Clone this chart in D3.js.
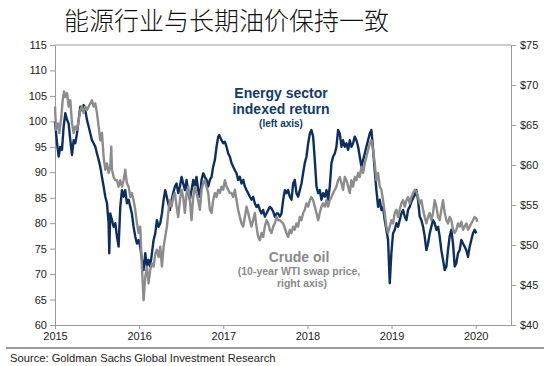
<!DOCTYPE html>
<html><head><meta charset="utf-8">
<script src="https://cdn.jsdelivr.net/npm/d3@7"></script>
<style>body{margin:0;background:#fff}svg{display:block}</style>
</head><body>
<svg id="c" width="550" height="366"></svg>
<script>
const title = "能源行业与长期油价保持一致";
const source = "Source:  Goldman Sachs Global Investment Research";
const yearTicks = [2015, 2016, 2017, 2018, 2019, 2020];
const leftTicks = [60,65,70,75,80,85,90,95,100,105,110,115];
const rightTicks = [40,45,50,55,60,65,70,75];

// Energy sector indexed return (left axis)
const energyDates = [2015.000,2015.024,2015.044,2015.063,2015.083,2015.103,2015.123,2015.143,2015.162,2015.182,2015.202,2015.222,2015.241,2015.261,2015.281,2015.301,2015.321,2015.340,2015.360,2015.380,2015.400,2015.420,2015.439,2015.459,2015.479,2015.499,2015.519,2015.538,2015.558,2015.578,2015.598,2015.618,2015.637,2015.645,2015.657,2015.677,2015.697,2015.717,2015.736,2015.756,2015.776,2015.796,2015.816,2015.835,2015.855,2015.875,2015.895,2015.914,2015.934,2015.954,2015.974,2015.994,2016.013,2016.033,2016.053,2016.073,2016.093,2016.112,2016.132,2016.152,2016.172,2016.192,2016.211,2016.231,2016.251,2016.271,2016.291,2016.310,2016.346,2016.366,2016.386,2016.405,2016.425,2016.445,2016.465,2016.485,2016.504,2016.524,2016.544,2016.564,2016.584,2016.603,2016.623,2016.643,2016.663,2016.682,2016.702,2016.722,2016.742,2016.762,2016.781,2016.801,2016.821,2016.841,2016.861,2016.880,2016.900,2016.920,2016.940,2016.952,2016.979,2016.999,2017.019,2017.039,2017.059,2017.078,2017.098,2017.118,2017.138,2017.158,2017.177,2017.197,2017.217,2017.237,2017.257,2017.276,2017.296,2017.316,2017.336,2017.355,2017.375,2017.395,2017.415,2017.435,2017.454,2017.474,2017.494,2017.514,2017.534,2017.553,2017.573,2017.593,2017.613,2017.633,2017.652,2017.672,2017.692,2017.712,2017.732,2017.751,2017.771,2017.791,2017.811,2017.831,2017.850,2017.870,2017.890,2017.910,2017.930,2017.949,2017.969,2017.989,2018.009,2018.029,2018.048,2018.068,2018.088,2018.108,2018.128,2018.147,2018.167,2018.187,2018.207,2018.227,2018.246,2018.266,2018.286,2018.306,2018.326,2018.345,2018.365,2018.385,2018.405,2018.424,2018.444,2018.464,2018.484,2018.504,2018.523,2018.543,2018.563,2018.583,2018.603,2018.622,2018.642,2018.662,2018.682,2018.701,2018.721,2018.741,2018.761,2018.781,2018.800,2018.820,2018.840,2018.860,2018.880,2018.899,2018.919,2018.939,2018.959,2018.971,2018.979,2018.998,2019.018,2019.038,2019.058,2019.078,2019.097,2019.117,2019.137,2019.157,2019.177,2019.196,2019.216,2019.236,2019.256,2019.276,2019.295,2019.315,2019.335,2019.355,2019.375,2019.394,2019.414,2019.434,2019.454,2019.473,2019.493,2019.513,2019.533,2019.553,2019.572,2019.592,2019.612,2019.632,2019.652,2019.671,2019.691,2019.711,2019.731,2019.751,2019.770,2019.790,2019.810,2019.830,2019.850,2019.869,2019.889,2019.909,2019.929,2019.948,2019.968,2019.988,2020.008];
const energyValues = [100.0,95.7,93.1,95.0,94.4,99.0,101.6,100.3,99.6,96.3,93.4,96.3,95.7,97.6,100.3,102.9,102.2,103.2,102.2,100.3,99.0,97.6,96.3,95.7,95.0,93.7,92.4,91.1,89.1,87.2,85.2,83.9,80.0,74.1,81.9,80.6,79.3,80.0,77.4,75.4,83.2,86.5,85.2,86.5,83.9,84.6,83.2,81.9,79.3,77.4,76.0,76.7,75.4,72.8,70.8,74.1,71.5,72.8,71.5,74.1,76.7,78.0,80.6,79.3,80.0,81.9,84.6,86.5,83.9,82.6,84.6,85.9,87.2,87.8,85.9,87.2,89.1,87.8,86.5,88.5,85.9,84.6,86.5,88.5,87.2,89.1,86.5,85.2,88.5,89.8,89.1,88.5,87.2,88.5,89.1,91.1,92.4,95.0,97.0,97.3,96.3,95.7,96.0,95.0,93.7,93.1,91.8,91.1,90.4,89.8,88.5,89.1,87.8,88.5,87.2,86.5,85.9,85.2,84.6,85.2,83.9,83.2,83.6,82.6,81.9,82.6,81.3,81.9,82.6,83.2,82.9,82.3,81.3,81.9,81.9,81.3,81.9,84.6,86.5,85.9,86.5,85.2,84.6,87.8,88.5,85.9,85.2,86.5,87.8,89.8,91.8,93.1,95.7,97.6,98.3,97.0,92.4,87.2,85.9,86.5,84.6,85.9,85.2,86.5,84.6,87.2,91.8,93.1,93.7,95.0,98.3,97.6,95.0,96.3,95.0,95.7,94.4,96.3,95.0,95.7,97.0,96.3,95.0,93.1,91.1,92.4,93.7,95.0,96.3,97.6,98.3,94.4,90.4,86.5,83.2,84.6,82.6,83.2,80.6,78.7,76.7,71.5,68.2,74.1,78.0,78.7,80.0,79.3,80.6,81.9,82.6,81.3,80.6,82.6,83.2,84.2,84.9,85.5,86.5,84.6,81.3,80.6,79.3,77.4,74.7,76.0,78.0,79.3,80.6,80.0,78.7,79.3,77.4,74.7,72.8,70.8,71.5,74.7,77.4,78.7,76.0,71.5,72.1,74.1,74.7,76.7,76.0,75.4,74.7,73.4,75.4,76.7,78.0,78.7,78.0];

// Crude oil, 10-year WTI swap price (right axis, $)
const oilDates = [2015.000,2015.012,2015.036,2015.051,2015.075,2015.091,2015.107,2015.123,2015.143,2015.162,2015.182,2015.202,2015.222,2015.241,2015.261,2015.281,2015.301,2015.321,2015.340,2015.360,2015.380,2015.400,2015.420,2015.439,2015.459,2015.479,2015.499,2015.519,2015.538,2015.558,2015.578,2015.598,2015.618,2015.637,2015.657,2015.669,2015.677,2015.697,2015.717,2015.736,2015.756,2015.776,2015.796,2015.816,2015.835,2015.855,2015.875,2015.895,2015.914,2015.934,2015.954,2015.974,2015.994,2016.013,2016.033,2016.053,2016.073,2016.093,2016.112,2016.132,2016.152,2016.172,2016.192,2016.211,2016.231,2016.251,2016.271,2016.291,2016.310,2016.330,2016.346,2016.366,2016.386,2016.405,2016.425,2016.445,2016.465,2016.485,2016.504,2016.524,2016.544,2016.564,2016.584,2016.603,2016.623,2016.643,2016.663,2016.682,2016.702,2016.722,2016.742,2016.762,2016.781,2016.801,2016.821,2016.841,2016.861,2016.880,2016.900,2016.920,2016.940,2016.960,2016.979,2016.999,2017.019,2017.039,2017.059,2017.078,2017.098,2017.118,2017.138,2017.158,2017.177,2017.197,2017.217,2017.237,2017.257,2017.276,2017.296,2017.316,2017.336,2017.355,2017.375,2017.395,2017.415,2017.435,2017.454,2017.474,2017.494,2017.514,2017.534,2017.553,2017.573,2017.593,2017.613,2017.633,2017.652,2017.672,2017.712,2017.751,2017.771,2017.791,2017.811,2017.831,2017.850,2017.870,2017.890,2017.910,2017.930,2017.949,2017.969,2017.989,2018.009,2018.029,2018.048,2018.068,2018.088,2018.108,2018.128,2018.147,2018.167,2018.187,2018.207,2018.227,2018.246,2018.266,2018.286,2018.306,2018.326,2018.345,2018.365,2018.385,2018.405,2018.424,2018.444,2018.464,2018.484,2018.504,2018.523,2018.543,2018.563,2018.583,2018.603,2018.622,2018.642,2018.662,2018.682,2018.701,2018.721,2018.741,2018.761,2018.781,2018.800,2018.820,2018.840,2018.860,2018.880,2018.899,2018.919,2018.939,2018.959,2018.979,2018.998,2019.018,2019.038,2019.058,2019.078,2019.097,2019.117,2019.137,2019.157,2019.177,2019.196,2019.216,2019.236,2019.256,2019.276,2019.295,2019.315,2019.335,2019.355,2019.375,2019.394,2019.414,2019.434,2019.454,2019.473,2019.493,2019.513,2019.533,2019.553,2019.572,2019.592,2019.612,2019.632,2019.652,2019.671,2019.691,2019.711,2019.731,2019.751,2019.770,2019.790,2019.810,2019.830,2019.850,2019.869,2019.889,2019.909,2019.929,2019.948,2019.968,2019.988,2020.008,2020.020];
const oilValues = [67.3,64.4,65.2,64.0,66.0,68.1,69.2,68.5,69.0,67.3,68.1,65.2,64.0,64.8,64.4,65.6,66.9,67.3,66.5,67.3,66.9,67.3,67.7,68.1,67.3,67.7,66.5,64.8,63.1,64.0,61.0,59.4,60.2,59.0,59.8,62.3,59.4,58.5,58.1,58.1,57.3,58.1,57.3,58.1,59.4,57.7,57.3,56.0,56.5,55.6,54.4,52.7,51.5,52.3,47.3,43.1,46.0,47.3,45.2,46.9,47.7,47.3,48.9,49.4,48.5,49.8,47.3,49.8,51.0,52.3,54.0,55.6,54.8,56.0,56.5,54.8,53.5,55.6,56.9,56.0,54.0,56.5,57.3,55.6,53.1,56.0,57.3,56.5,55.6,54.4,56.9,57.7,58.1,57.3,56.5,54.4,54.0,55.6,56.5,56.0,56.9,56.5,57.3,56.9,58.1,57.3,56.9,56.5,56.5,56.0,56.9,55.6,54.4,53.5,52.7,52.3,53.5,54.8,54.0,53.1,52.3,53.1,54.0,52.3,51.0,50.6,51.5,51.0,52.3,53.1,52.7,51.9,51.5,52.3,52.7,53.5,53.1,53.1,52.7,51.5,51.0,51.9,51.5,52.3,51.9,52.7,52.3,53.5,53.1,54.0,54.4,55.2,54.8,55.6,56.0,55.6,54.8,54.0,53.1,54.0,54.8,55.2,54.8,55.6,54.8,55.6,56.0,56.5,56.9,57.3,58.1,58.5,57.7,56.9,58.5,58.1,57.3,56.5,58.1,57.3,58.5,58.1,59.0,58.5,59.8,59.0,60.2,61.0,61.9,62.7,63.1,61.9,60.2,58.1,59.0,57.3,56.9,55.6,54.0,52.3,51.5,52.3,53.1,52.7,54.0,54.4,53.5,54.4,55.2,55.6,54.8,55.6,56.0,55.2,56.0,56.5,56.9,56.7,56.0,55.2,55.6,54.4,53.5,52.7,53.5,54.0,53.1,54.0,55.6,54.8,53.5,53.1,54.4,55.6,54.0,53.1,52.7,53.5,53.1,51.9,51.5,51.9,52.7,52.3,52.9,51.9,52.3,52.7,51.9,52.3,52.7,53.1,53.5,53.3,52.9];

const svg = d3.select("#c");
const W = 550, H = 366;
const m = {l: 55, r: 39, t: 45, b: 41};
const x = d3.scaleLinear().domain([2015, 2020.42]).range([m.l, W - m.r]);
const yL = d3.scaleLinear().domain([60, 115]).range([H - m.b, m.t]);
const yR = d3.scaleLinear().domain([40, 75]).range([H - m.b, m.t]);
const axisColor = "#9a9a9a";
const font = "'Liberation Sans', Arial, sans-serif";

// title
svg.append("text").attr("x", 64).attr("y", 30)
  .attr("font-family", "'Noto Sans CJK SC', sans-serif").attr("font-size", 25)
  .attr("font-weight", 300).attr("fill", "#111").text(title);

// frame top line
svg.append("line").attr("x1", m.l).attr("x2", W - m.r).attr("y1", m.t).attr("y2", m.t)
  .attr("stroke", axisColor);

function style(g) {
  g.select(".domain").attr("stroke", axisColor);
  g.selectAll(".tick line").attr("stroke", axisColor);
  g.selectAll(".tick text").attr("fill", "#222").attr("font-family", font).attr("font-size", 11);
}

svg.append("g").attr("transform", `translate(${m.l},0)`)
  .call(d3.axisLeft(yL).tickValues(leftTicks).tickSize(5).tickSizeOuter(0).tickPadding(3))
  .call(style);
svg.append("g").attr("transform", `translate(${W - m.r},0)`)
  .call(d3.axisRight(yR).tickValues(rightTicks).tickSize(5).tickSizeOuter(0).tickPadding(4).tickFormat(d => "$" + d))
  .call(style);
svg.append("g").attr("transform", `translate(0,${H - m.b})`)
  .call(d3.axisBottom(x).tickValues(yearTicks).tickSize(4).tickSizeOuter(0).tickPadding(3).tickFormat(d3.format("d")))
  .call(style);

const energy = energyDates.map((d, i) => [d, energyValues[i]]);
const oil = oilDates.map((d, i) => [d, oilValues[i]]);

svg.append("path").datum(energy)
  .attr("fill", "none").attr("stroke", "#0e2f5e").attr("stroke-width", 2.4).attr("stroke-linejoin", "round")
  .attr("d", d3.line().x(d => x(d[0])).y(d => yL(d[1])));
svg.append("path").datum(oil)
  .attr("fill", "none").attr("stroke", "#8c8c8c").attr("stroke-width", 2.4).attr("stroke-linejoin", "round")
  .attr("d", d3.line().x(d => x(d[0])).y(d => yR(d[1])));

// annotations
const navy = "#123a6b", grey = "#8a8a8a";
const ann = svg.append("g").attr("font-family", font).attr("font-weight", "bold").attr("text-anchor", "middle");
ann.append("text").attr("x", 281).attr("y", 98).attr("font-size", 14).attr("fill", navy).text("Energy sector");
ann.append("text").attr("x", 281).attr("y", 114).attr("font-size", 14).attr("fill", navy).text("indexed return");
ann.append("text").attr("x", 281).attr("y", 127).attr("font-size", 10).attr("fill", navy).text("(left axis)");
ann.append("text").attr("x", 299).attr("y", 262).attr("font-size", 14).attr("fill", grey).text("Crude oil");
ann.append("text").attr("x", 299).attr("y", 275).attr("font-size", 10.5).attr("fill", grey).text("(10-year WTI swap price,");
ann.append("text").attr("x", 302).attr("y", 287).attr("font-size", 10.5).attr("fill", grey).text("right axis)");

// footer
svg.append("line").attr("x1", 6).attr("x2", 544).attr("y1", 348).attr("y2", 348)
  .attr("stroke", "#9a9a9a").attr("stroke-width", 2);
svg.append("text").attr("x", 10).attr("y", 362).attr("font-family", font).attr("font-size", 11.2)
  .attr("fill", "#222").text(source);
</script>
</body></html>
